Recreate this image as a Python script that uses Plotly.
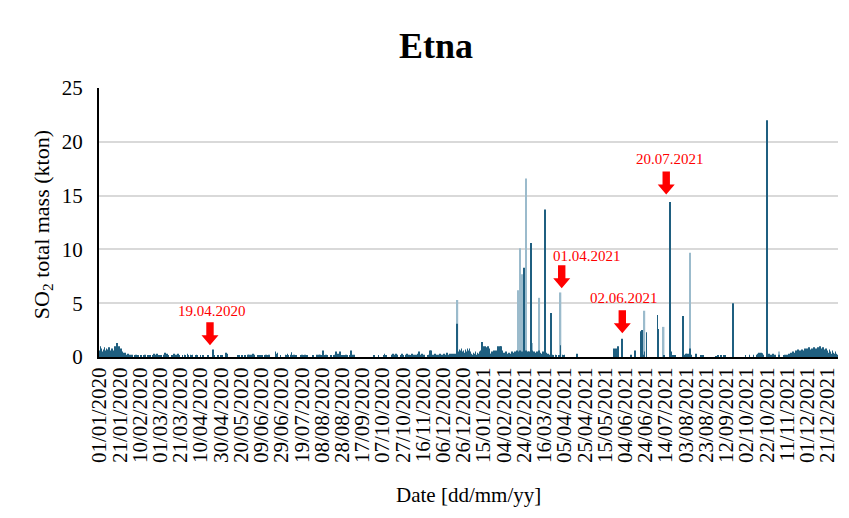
import pandas as pd
import plotly.graph_objects as go

# ---------------- data (daily SO2 total mass, kton) ----------------
m2020_01 = [0.6,1.0,0.8,0.5,0.7,0.9,0.6,0.8,0.7,0.9,0.5,0.6,0.8,0.4,0.6,1.0,0.7,1.3,0.9,1.0,0.6,0.8,0.5,0.4,0.3,0.4,0.1,0.2,0.3,0.1,0.2]
m2020_02 = [0.1,0.2,0,0,0.1,0.2,0,0.1,0,0,0.1,0,0,0.1,0.2,0,0,0.1,0,0.1,0,0,0.1,0.3,0.2,0.1,0.3,0,0.1]
m2020_03 = [0,0.1,0,0,0.2,0.4,0.2,0.3,0.1,0,0,0,0.1,0,0.3,0.1,0.2,0,0.3,0.1,0,0,0.1,0,0.2,0.1,0,0.3,0.1,0,0.2]
m2020_04 = [0.1,0.2,0,0,0.1,0.2,0.1,0,0,0.15,0,0.1,0,0,0,0,0.1,0,0,0,0,0.7,0.1,0,0,0,0.15,0,0,0.1]
m2020_05 = [0.1,0,0,0,0.4,0.3,0,0,0,0,0,0,0,0,0,0,0.1,0.1,0,0,0.1,0,0,0.1,0,0,0.2,0.2,0,0.2,0.1]
m2020_06 = [0.3,0.2,0,0,0,0.1,0,0.1,0,0.1,0,0,0.1,0.2,0,0.1,0.2,0,0,0,0,0,0.5,0.3,0.4,0,0,0.1,0,0]
m2020_07 = [0,0,0.2,0.1,0.3,0.1,0,0.2,0.45,0.1,0.2,0,0.1,0,0,0,0,0.1,0.2,0.1,0,0.2,0.1,0.1,0,0,0,0,0,0.1,0]
m2020_08 = [0,0,0.2,0.1,0.2,0.2,0,0.1,0.6,0.1,0,0.2,0.1,0,0,0,0.1,0,0,0.1,0.2,0.5,0.1,0.3,0.2,0.5,0.1,0,0.1,0,0.1]
m2020_09 = [0.2,0.1,0,0,0.1,0.6,0.2,0.1,0.2,0,0,0,0,0,0,0,0,0,0,0,0,0,0,0,0,0,0,0.1,0.15,0]
m2020_10 = [0,0,0.1,0,0,0,0,0.1,0.3,0.1,0,0,0,0,0,0.2,0.3,0.1,0.2,0.3,0.2,0,0,0,0.1,0.3,0.1,0,0,0.2,0.3]
m2020_11 = [0.1,0.2,0,0.1,0.3,0.1,0.2,0,0.2,0.1,0.3,0.5,0.1,0.2,0.3,0.1,0.2,0,0,0,0.1,0.2,0.6,0.6,0.1,0.2,0.1,0.3,0.2,0.1]
m2020_12 = [0.2,0.1,0.3,0.2,0.1,0.2,0.3,0.1,0.2,0.4,0.2,0.1,0.3,0.2,0.3,0.2,0.3,0.1,0.3,3.1,0.5,0.7,0.6,0.8,0.5,0.6,0.4,0.7,0.5,0.8,0.6]
m2021_01 = [0.8,0.5,0.3,0.2,0.4,0.3,0.5,0.2,0.4,0.3,0.5,0.6,1.4,1.0,0.6,1.0,0.9,0.7,1.0,0.8,0.3,0.3,0.5,0.2,0.6,0.5,0.6,0.4,1.0,0.8,1.0]
m2021_02 = [1.0,0.6,0.3,0.4,0.2,0.5,0.3,0.2,0.4,0.2,0.3,0.5,0.4,0.3,0.5,0.4,0.6,0.5,0.4,0.6,0.3,0.5,0.4,8.3,0.5,0.6,0.4,0.5]
m2021_03 = [0.5,0.4,10.6,0.6,0.3,0.5,0.4,0.2,0.5,0.3,0.6,0.4,0.2,0.3,0.5,0.2,13.7,0.4,0.2,0.3,0.1,0.2,4.1,0.2,0.1,0,0.2,0.1,0,0.1,0.1]
m2021_04 = [1.1,0,0.2,0.1,0.2,0,0,0,0,0,0,0,0,0,0,0,0.3,0,0,0,0,0,0,0,0,0,0,0,0,0]
m2021_05 = [0,0,0,0,0,0,0,0,0,0,0,0,0,0,0,0,0,0,0,0,0,0,0,0.8,0.3,0.8,0,1.0,0,0,0]
m2021_06 = [1.7,0,0,0,0,0,0,0,0,0.2,0,0,0,0.6,0,0,0,0,0,2.4,2.5,0.2,0.5,0,2.3,0,0,0,0,0]
m2021_07 = [0,0,0,0,0,3.9,2.6,0,0,0,0,0.1,0,0,0,0,0,14.4,0.5,0,0.1,0,0.1,0,0,0,0,0,0,0,3.8]
m2021_08 = [0.2,0,0.3,0.3,0,0.3,0.8,0.2,0,0,0,0,0.3,0,0,0,0,0.15,0,0.1,0,0,0,0,0,0,0,0,0,0,0]
m2021_09 = [0,0.05,0,0.1,0,0,0.1,0,0,0.1,0.15,0,0,0,0,0,0,0,5.0,0,0,0,0,0,0,0,0,0,0,0]
m2021_10 = [0.15,0,0,0,0.2,0,0,0,0.2,0,0,0.2,0.3,0.4,0,0.4,0.35,0.2,0,0,0,22.0,0,0.3,0.2,0,0.2,0.3,0,0.2,0]
m2021_11 = [0,0,0.2,0,0,0,0,0.1,0.2,0.1,0.2,0,0.3,0.2,0.4,0.3,0.5,0.4,0.3,0.6,0.5,0.7,0.4,0.6,0.5,0.7,0.6,0.5,0.8,0.6]
m2021_12 = [0.8,0.5,0.9,0.7,0.6,0.8,0.5,0.9,0.7,0.8,0.6,0.9,0.7,1.0,0.8,0.6,0.9,0.7,0.5,0.8,0.6,0.4,0.7,0.5,0.3,0.6,0.4,0.3,0.5,0.3,0.2]

months = {
    "2020-01": m2020_01, "2020-02": m2020_02, "2020-03": m2020_03, "2020-04": m2020_04,
    "2020-05": m2020_05, "2020-06": m2020_06, "2020-07": m2020_07, "2020-08": m2020_08,
    "2020-09": m2020_09, "2020-10": m2020_10, "2020-11": m2020_11, "2020-12": m2020_12,
    "2021-01": m2021_01, "2021-02": m2021_02, "2021-03": m2021_03, "2021-04": m2021_04,
    "2021-05": m2021_05, "2021-06": m2021_06, "2021-07": m2021_07, "2021-08": m2021_08,
    "2021-09": m2021_09, "2021-10": m2021_10, "2021-11": m2021_11, "2021-12": m2021_12,
}

# second (lighter) bars
light_dates = ["2020-12-20", "2021-02-18", "2021-02-20", "2021-02-22", "2021-02-26",
               "2021-03-04", "2021-03-11", "2021-04-01", "2021-06-23", "2021-07-12",
               "2021-08-07", "2021-11-03"]
light_values = [5.3, 6.2, 10.1, 7.7, 16.6, 1.3, 5.5, 6.0, 4.3, 2.8, 9.7, 0.5]

tick_labels = ["01/01/2020","21/01/2020","10/02/2020","01/03/2020","21/03/2020","10/04/2020",
               "30/04/2020","20/05/2020","09/06/2020","29/06/2020","19/07/2020","08/08/2020",
               "28/08/2020","17/09/2020","07/10/2020","27/10/2020","16/11/2020","06/12/2020",
               "26/12/2020","15/01/2021","04/02/2021","24/02/2021","16/03/2021","05/04/2021",
               "25/04/2021","15/05/2021","04/06/2021","24/06/2021","14/07/2021","03/08/2021",
               "23/08/2021","12/09/2021","02/10/2021","22/10/2021","11/11/2021","01/12/2021",
               "21/12/2021"]

# event markers: label, text position (date, value), arrow tip (date, value)
event_labels = ["19.04.2020", "01.04.2021", "02.06.2021", "20.07.2021"]
event_text_x = ["2020-04-21 07:00", "2021-04-27 05:00", "2021-06-03 07:00", "2021-07-18 00:00"]
event_text_y = [4.3, 9.4, 5.45, 18.4]
event_arrow_x = ["2020-04-19 07:00", "2021-04-02 05:00", "2021-06-01 03:00", "2021-07-14 14:00"]
event_arrow_y = [1.1, 6.4, 2.2, 15.1]

# ---------------- build ----------------
dates, values = [], []
for ym, vals in months.items():
    start = pd.Timestamp(ym + "-01")
    ndays = start.days_in_month
    for i in range(ndays):
        dates.append(start + pd.Timedelta(days=i))
        values.append(vals[i] if i < len(vals) else 0)

DARK = "#1f5f80"
LIGHT = "#9bbbcc"
SERIF = "Liberation Serif, Times New Roman, serif"

fig = go.Figure()
fig.add_trace(go.Bar(x=pd.to_datetime(light_dates), y=light_values, marker=dict(color=LIGHT, line=dict(width=0)),
                     showlegend=False, hoverinfo="x+y"))
fig.add_trace(go.Bar(x=dates, y=values, marker=dict(color=DARK, line=dict(width=0)),
                     showlegend=False, hoverinfo="x+y"))

tickvals = [pd.to_datetime(t, format="%d/%m/%Y") for t in tick_labels]

fig.update_layout(
    width=849, height=518,
    margin=dict(l=99, r=11, t=88, b=161),
    paper_bgcolor="white", plot_bgcolor="white",
    barmode="overlay", bargap=0.2,
    font=dict(family=SERIF, size=21, color="black"),
    title=dict(text="<b>Etna</b>", x=436/849, xref="container", xanchor="center",
               y=1-45/518, yref="container", yanchor="middle",
               font=dict(family=SERIF, size=36, color="black")),
    xaxis=dict(type="date", range=["2019-12-31 12:00", "2021-12-31 12:00"],
               tickmode="array", tickvals=tickvals, ticktext=tick_labels, tickangle=-90,
               showgrid=False, showline=True, linecolor="black", linewidth=2,
               ticks="", tickfont=dict(family=SERIF, size=21, color="black")),
    yaxis=dict(range=[0, 25], dtick=5, tick0=0, showgrid=True, gridcolor="#d9d9d9", gridwidth=1.5,
               showline=True, linecolor="black", linewidth=2, zeroline=False,
               ticks="", ticklabelstandoff=10, tickfont=dict(family=SERIF, size=21, color="black")),
)

fig.add_annotation(text="SO<sub>2</sub> total mass (kton)", xref="paper", yref="paper",
                   x=(43-99)/739, y=0.49, xanchor="center", yanchor="middle", textangle=-90,
                   showarrow=False, font=dict(family=SERIF, size=22, color="black"))
fig.add_annotation(text="Date [dd/mm/yy]", xref="paper", yref="paper",
                   x=(468-99)/739, y=-(495-357)/269, xanchor="center", yanchor="middle",
                   showarrow=False, font=dict(family=SERIF, size=21, color="black"))

for lab, tx, ty, ax_, ay_ in zip(event_labels, event_text_x, event_text_y, event_arrow_x, event_arrow_y):
    fig.add_annotation(text=lab, x=tx, y=ty, xref="x", yref="y", showarrow=False,
                       xanchor="center", yanchor="middle", font=dict(family=SERIF, size=15, color="#ff0000"))
    fig.add_shape(type="path", xref="x", yref="y", xsizemode="pixel", ysizemode="pixel",
                  xanchor=ax_, yanchor=ay_,
                  path="M -3.7,23 L 3.7,23 L 3.7,10 L 8.5,10 L 0,0 L -8.5,10 L -3.7,10 Z",
                  fillcolor="#ff0000", line=dict(width=0))

fig.write_html("out.html", config={"displayModeBar": False})
with open("out.html", encoding="utf-8") as f:
    html = f.read()
html = html.replace("<body>", '<body style="margin:0;padding:0;">', 1)
with open("out.html", "w", encoding="utf-8") as f:
    f.write(html)
